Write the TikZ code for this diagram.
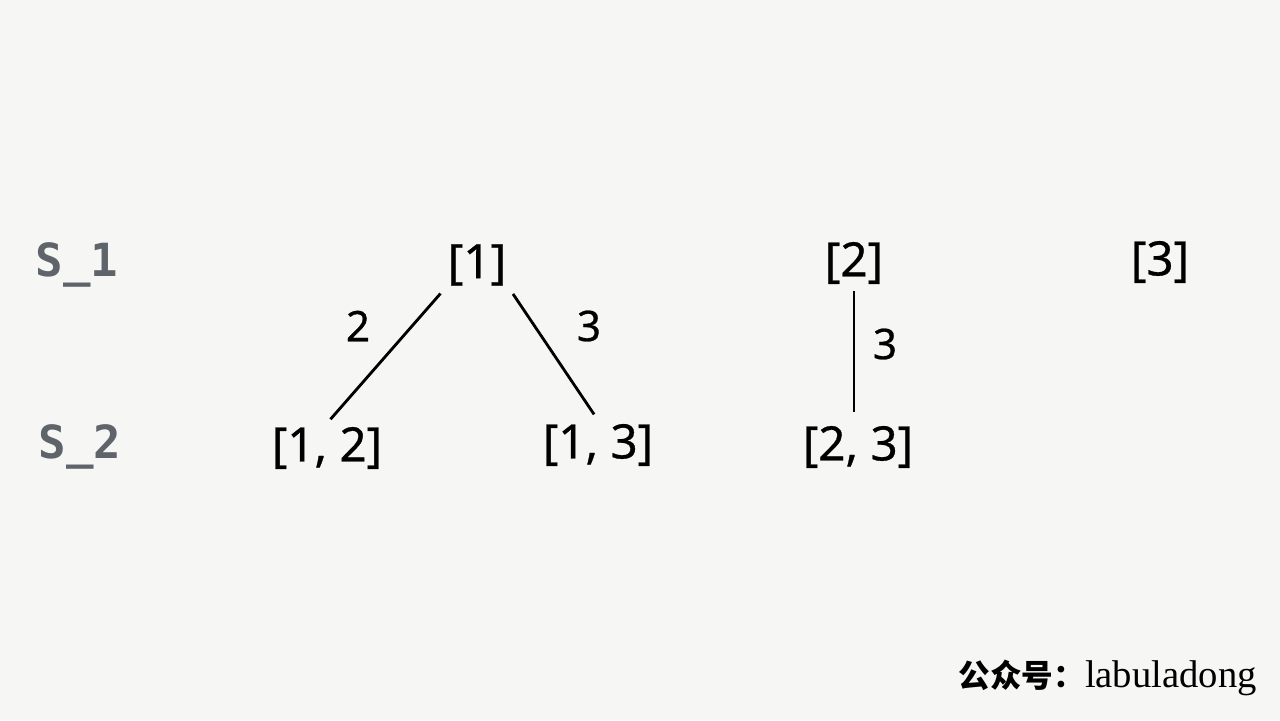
\documentclass[tikz,border=0pt]{standalone}
\usepackage{fontspec}
\usetikzlibrary{positioning}
\newfontfamily\setfont{Noto Sans}[FakeBold=0.6]
\newfontfamily\levelfont{DejaVu Sans Mono}
\newfontfamily\cjkfont{Noto Sans CJK SC}
\newfontfamily\markfont{Liberation Serif}
\definecolor{paper}{HTML}{F6F6F4}
\definecolor{levelgray}{HTML}{5E646A}

\begin{document}
\begin{tikzpicture}[x=0.02cm, y=-0.02cm,
    subset/.style={font=\setfont\fontsize{27}{32}\selectfont, inner sep=2pt},
    level/.style={font=\levelfont\bfseries\fontsize{26}{30}\selectfont, text=levelgray},
    choice/.style={font=\setfont\bfseries\fontsize{24}{28}\selectfont},
    branch/.style={line width=1.6pt}]
  \fill[paper] (0,0) rectangle (1280,720);
  \useasboundingbox (0,0) rectangle (1280,720);

  % levels
  \node[level] (s1) at (77,265) {S\_1};
  \node[level] (s2) at (80,447) {S\_2};

  % first level
  \node[subset] (n1) at (477,265) {[1]};
  \node[subset] (n2) at (854,263) {[2]};
  \node[subset] (n3) at (1160,262) {[3]};

  % second level
  \node[subset] (n12) at (327,448) {[1, 2]};
  \node[subset] (n13) at (598,445) {[1, 3]};
  \node[subset] (n23) at (858,447) {[2, 3]};

  \draw[branch, shorten <=3pt, shorten >=3pt] (n1.south west) -- (n12.north);
  \draw[branch, shorten <=3pt, shorten >=4pt] (n1.south east) -- (n13.north);
  \draw[branch, shorten <=2pt, shorten >=6pt] (n2.south) -- (n2.south |- n23.north);

  \node[choice] (c12) at (358,326) {2};
  \node[choice] (c13) at (589,326) {3};
  \node[choice] (c23) at (885,344) {3};

  \node[anchor=base east] (mark) at (1263,687)
    {{\cjkfont\bfseries\fontsize{18}{21}\selectfont 公众号：}{\markfont\fontsize{22}{26}\selectfont labuladong}};
\end{tikzpicture}
\end{document}
